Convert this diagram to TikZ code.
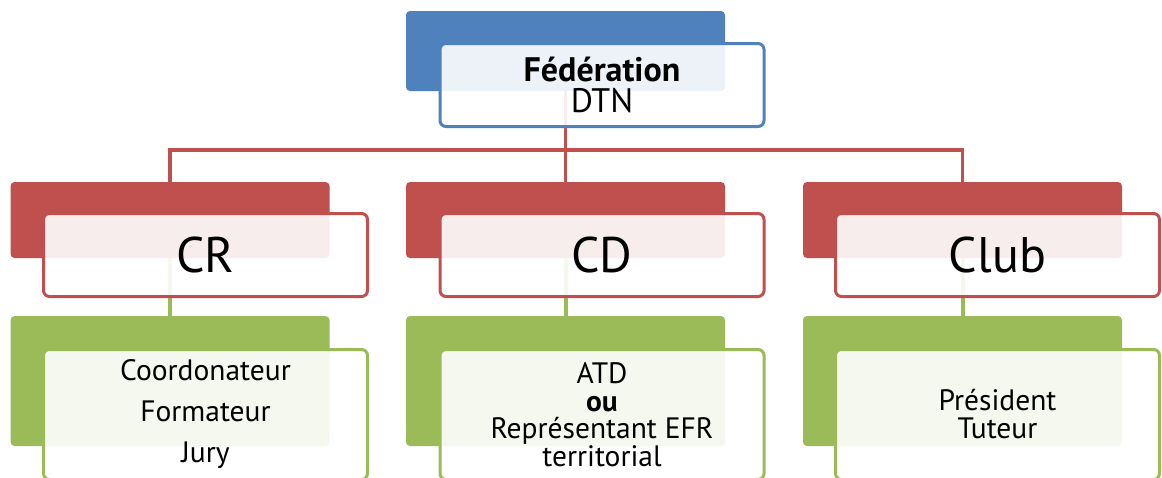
\documentclass[tikz,border=0pt]{standalone}
\usepackage{fontspec}
\setmainfont{PT Sans}
\definecolor{cblue}{HTML}{4F81BD}
\definecolor{cred}{HTML}{C0504D}
\definecolor{cgreen}{HTML}{9BBB59}
\begin{document}
\begin{tikzpicture}[x=1pt,y=-1pt,
  backbox/.style={rectangle, rounded corners=4pt, fill=#1, inner sep=0pt,
    minimum width=319pt},
  frontbox/.style={rectangle, rounded corners=6pt, draw=#1, line width=3pt,
    fill=white, fill opacity=0.9, text opacity=1, inner sep=0pt,
    minimum width=324pt, minimum height=83pt, align=center},
  redline/.style={draw=cred, line width=3.5pt},
  greenline/.style={draw=cgreen, line width=4pt},
  bigtxt/.style={font=\fontsize{50}{56}\selectfont},
  ]
\useasboundingbox (0,0) rectangle (1162,477);
\clip (0,0) rectangle (1162,477);
\fill[white] (0,0) rectangle (1162,477);
% back boxes
\node[backbox=cblue, minimum height=80pt] (fedb) at (565.5,51) {};
\node[backbox=cred, minimum height=76pt] (crb) at (170,220) {};
\node[backbox=cred, minimum height=76pt] (cdb) at (565.5,220) {};
\node[backbox=cred, minimum height=76pt] (clb) at (962.5,220) {};
\node[backbox=cgreen, minimum height=130pt] (crg) at (170,381) {};
\node[backbox=cgreen, minimum height=130pt] (cdg) at (565.5,381) {};
\node[backbox=cgreen, minimum height=130pt] (clg) at (962.5,381) {};
% connectors
\coordinate (bus) at (565.5,150);
\draw[redline] (fedb.south) -- (fedb.south |- bus);
\draw[redline] (fedb.south |- bus) -| (crb.north);
\draw[redline] (fedb.south |- bus) -- (cdb.north);
\draw[redline] (fedb.south |- bus) -| (clb.north);
\draw[greenline] (crb.south) -- (crg.north);
\draw[greenline] (cdb.south) -- (cdg.north);
\draw[greenline] (clb.south) -- (clg.north);
% front boxes
\node[frontbox=cblue, font=\fontsize{34}{31}\selectfont] (fedf) at (602,85)
  {\textbf{Fédération}\\DTN};
\node[frontbox=cred, bigtxt] (crf) at (205.5,255) {CR};
\node[frontbox=cred, bigtxt] (cdf) at (602,255) {CD};
\node[frontbox=cred, bigtxt] (clf) at (997.5,255) {Club};
\node[frontbox=cgreen, minimum height=130pt, font=\fontsize{29.5}{41}\selectfont] (crgf) at (205.5,414.5)
  {Coordonateur\\Formateur\\Jury};
\node[frontbox=cgreen, minimum height=130pt, font=\fontsize{29.5}{27.5}\selectfont] (cdgf) at (602,414.5)
  {ATD\\\textbf{ou}\\Représentant EFR\\territorial};
\node[frontbox=cgreen, minimum height=130pt, font=\fontsize{29.5}{28}\selectfont] (clgf) at (997.5,414.5)
  {Président\\Tuteur};
\end{tikzpicture}
\end{document}
